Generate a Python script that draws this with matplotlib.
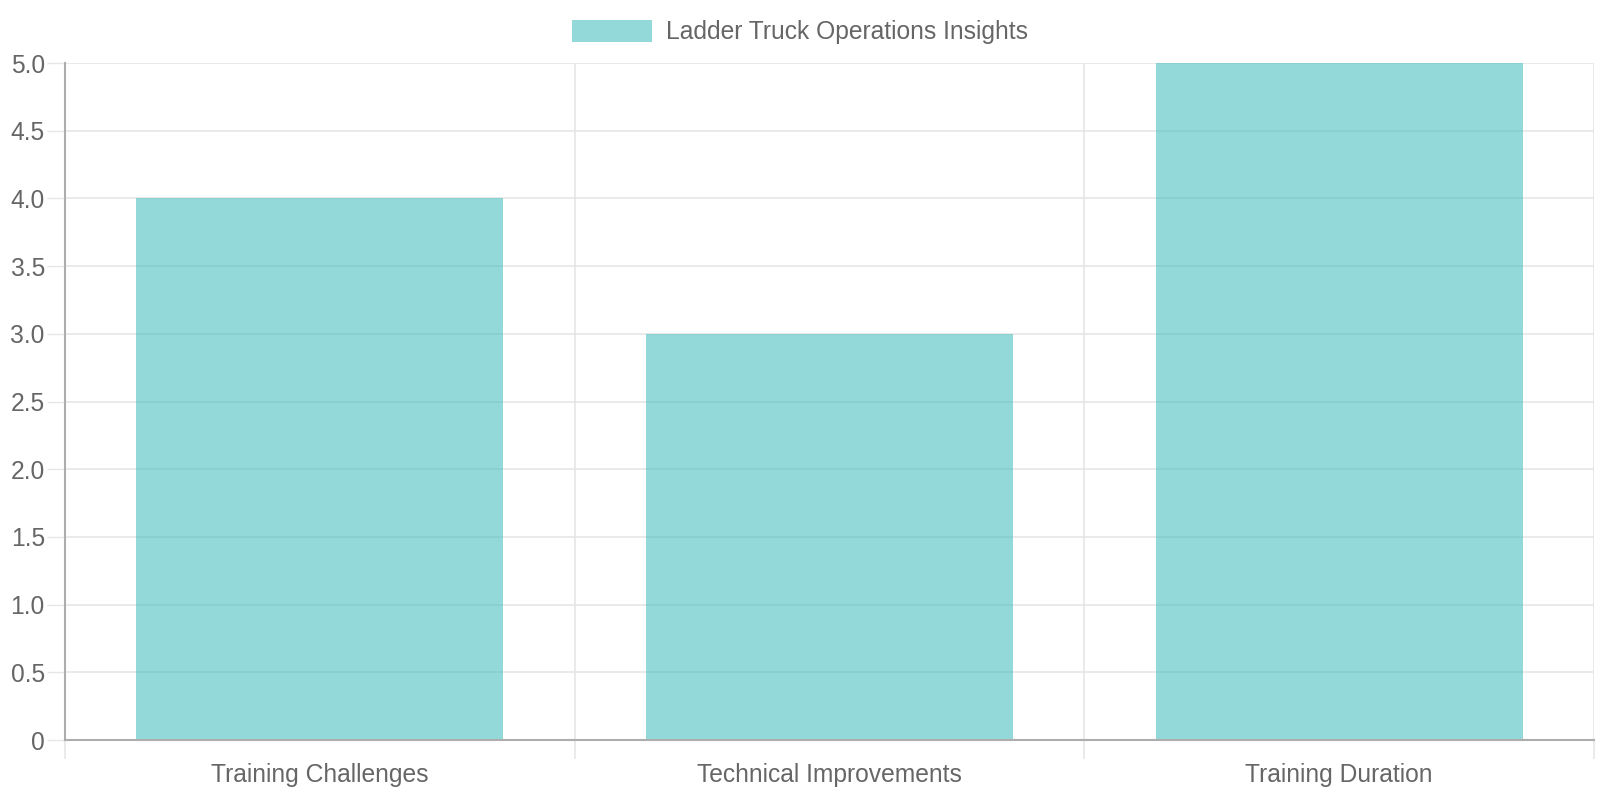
import numpy as np
import matplotlib
matplotlib.use('Agg')
import matplotlib.pyplot as plt

# data
categories = ['Training Challenges', 'Technical Improvements', 'Training Duration']
values = [4, 3, 5]
series_name = 'Ladder Truck Operations Insights'
y_ticks = [0, 0.5, 1.0, 1.5, 2.0, 2.5, 3.0, 3.5, 4.0, 4.5, 5.0]
y_tick_labels = ['0', '0.5', '1.0', '1.5', '2.0', '2.5', '3.0', '3.5', '4.0', '4.5', '5.0']

plt.rcParams['font.family'] = ['Liberation Sans', 'DejaVu Sans']
text_col = '#666666'
grid_col = '#e6e6e6'
axis_col = '#adadad'
fs = 17.7

fig = plt.figure(figsize=(16, 8), dpi=100)
ax = fig.add_axes([65 / 1600, 60 / 800, 1529 / 1600, 677 / 800])

x = np.arange(len(categories))
ax.bar(x, values, width=0.72, color=(75 / 255, 192 / 255, 192 / 255, 0.6),
       label=series_name, zorder=2)

ax.set_xlim(-0.5, len(categories) - 0.5)
ax.set_ylim(0, 5)

# y axis
ax.set_yticks(y_ticks)
ax.set_yticklabels(y_tick_labels)
ax.tick_params(axis='y', length=13, width=1, color=grid_col, pad=1.5,
               labelsize=fs, labelcolor=text_col)
ax.yaxis.grid(True, color=grid_col, linewidth=1.2, zorder=0)

# x axis: labels centred, grid lines between categories
ax.set_xticks(x)
ax.set_xticklabels(categories)
ax.set_xticks(np.arange(len(categories) + 1) - 0.5, minor=True)
ax.tick_params(axis='x', which='major', length=0, pad=16.5,
               labelsize=fs, labelcolor=text_col)
ax.tick_params(axis='x', which='minor', length=14, width=1.2, color=grid_col)
ax.xaxis.grid(True, which='minor', color=grid_col, linewidth=1.2, zorder=0)
ax.set_axisbelow(True)

for side in ['top', 'right']:
    ax.spines[side].set_visible(False)
for side in ['left', 'bottom']:
    ax.spines[side].set_color(axis_col)
    ax.spines[side].set_linewidth(1.5)
    ax.spines[side].set_zorder(3)

fig.legend(loc='center', bbox_to_anchor=(0.5, 1 - 32 / 800), frameon=False,
           fontsize=fs, labelcolor=text_col, handlelength=3.25,
           handleheight=1.0, handletextpad=0.55, borderaxespad=0)

fig.savefig('out.png', dpi=100, facecolor='white')
